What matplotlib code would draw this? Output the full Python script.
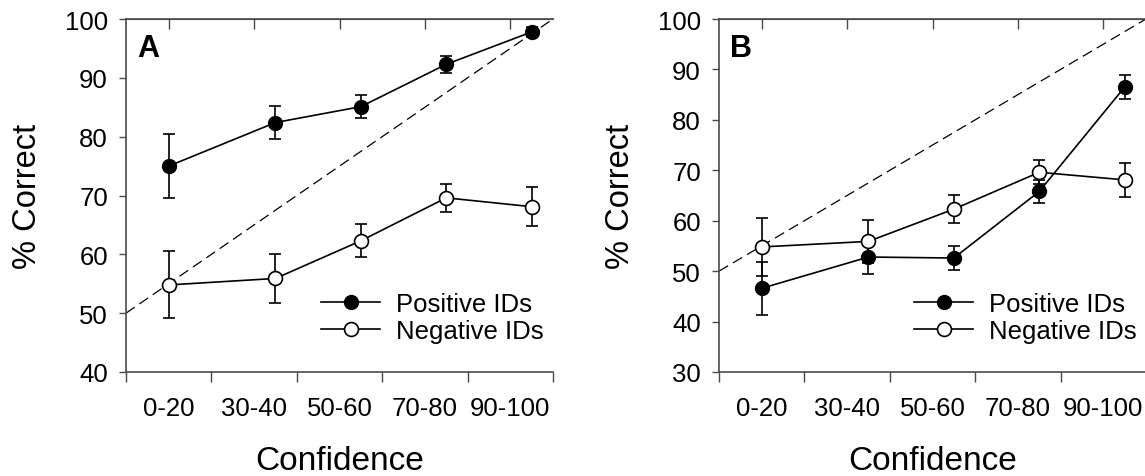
import numpy as np
import matplotlib
matplotlib.use("Agg")
import matplotlib.pyplot as plt

plt.rcParams['font.family'] = ['Liberation Sans', 'DejaVu Sans']

# confidence bins, plotted at bin positions on a 0-100 scale
bin_labels = ["0-20", "30-40", "50-60", "70-80", "90-100"]
label_pos = [10, 30, 50, 70, 90]
point_pos = [10, 35, 55, 75, 95]

# panel A
pos_a = [75.0, 82.4, 85.1, 92.3, 97.8]
pos_a_err = [5.4, 2.8, 1.9, 1.4, 0.8]
# panel B
pos_b = [46.6, 52.8, 52.6, 65.8, 86.5]
pos_b_err = [5.3, 3.3, 2.3, 2.3, 2.3]
# negative IDs (same in both panels)
neg = [54.8, 55.9, 62.3, 69.6, 68.1]
neg_err = [5.7, 4.2, 2.8, 2.4, 3.3]

# calibration line
calib_x = [0, 100]
calib_y = [50, 100]

axis_col = '#4a4a4a'

fig = plt.figure(figsize=(11.45, 4.77), dpi=100)
W, H = 1145, 477
ax_a = fig.add_axes([126 / W, 1 - 373 / H, 427 / W, 353 / H])
ax_b = fig.add_axes([719 / W, 1 - 373 / H, 427 / W, 353 / H])


def draw_panel(ax, pos, pos_err, ylim, letter):
    ax.plot(calib_x, calib_y, color='black', lw=0.9, dashes=(8.5, 4.5), zorder=1)
    ax.errorbar(point_pos, pos, yerr=pos_err, fmt='none', ecolor='black',
                elinewidth=1.2, capsize=4, capthick=1.2, zorder=2)
    ax.errorbar(point_pos, neg, yerr=neg_err, fmt='none', ecolor='black',
                elinewidth=1.2, capsize=4, capthick=1.2, zorder=2)
    ax.plot(point_pos, pos, '-o', color='black', mfc='black', mec='black',
            ms=10, lw=1.2, label='Positive IDs', zorder=3)
    ax.plot(point_pos, neg, '-o', color='black', mfc='white', mec='black',
            ms=10, mew=1.2, lw=1.2, label='Negative IDs', zorder=4)

    ax.set_xlim(0, 100)
    ax.set_ylim(*ylim)
    ax.set_yticks(np.arange(ylim[0], ylim[1] + 1, 10))
    ax.set_xticks(np.arange(0, 101, 20))
    ax.set_xticklabels([])
    ax.set_xticks(label_pos, minor=True)
    ax.set_xticklabels(bin_labels, minor=True)
    ax.tick_params(axis='x', which='major', direction='out', length=7,
                   width=1, color=axis_col)
    ax.tick_params(axis='x', which='minor', length=0, pad=17, labelsize=18.5)
    ax.tick_params(axis='y', direction='out', length=5, width=1,
                   color=axis_col, labelsize=18.5, pad=8)

    top = ax.secondary_xaxis('top')
    top.set_xticks(label_pos)
    top.tick_params(direction='in', length=7, width=1, color=axis_col,
                    labeltop=False)
    top.spines['top'].set_color(axis_col)

    ax.spines['right'].set_visible(False)
    for s in ['left', 'bottom', 'top']:
        ax.spines[s].set_color(axis_col)
        ax.spines[s].set_linewidth(1.2)

    ax.set_xlabel('Confidence', fontsize=24, labelpad=18)
    ax.set_ylabel('% Correct', fontsize=23.5, labelpad=16)
    ax.text(0.026, 0.96, letter, transform=ax.transAxes, ha='left', va='top',
            fontsize=22, fontweight='bold')
    ax.legend(loc='lower left', bbox_to_anchor=(0.415, 0.03), frameon=False,
              fontsize=18.5, handlelength=2.3, handletextpad=0.6,
              labelspacing=0.15, borderpad=0.2)


draw_panel(ax_a, pos_a, pos_a_err, (40, 100), 'A')
draw_panel(ax_b, pos_b, pos_b_err, (30, 100), 'B')

fig.savefig('out.png', dpi=100)
